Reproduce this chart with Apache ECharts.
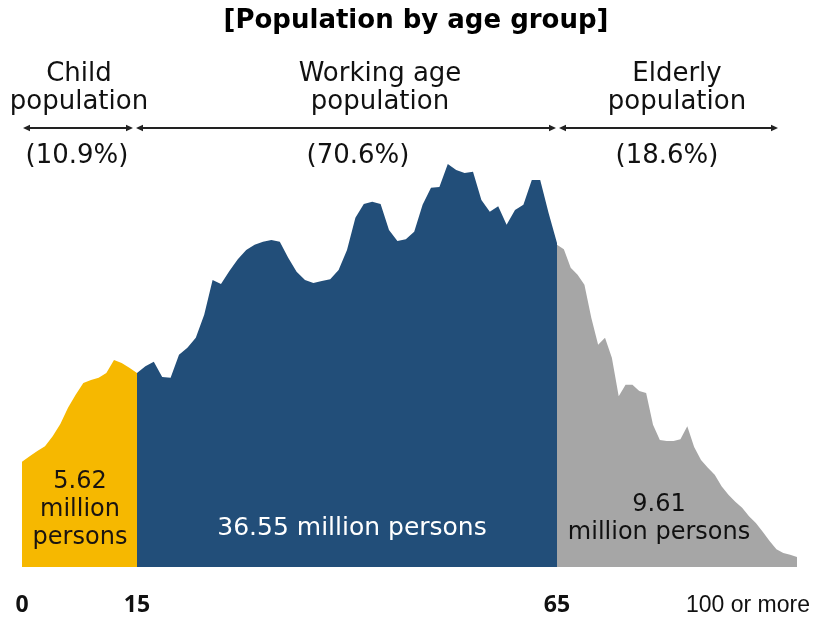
<!DOCTYPE html>
<html><head><meta charset="utf-8">
<script src="https://cdn.jsdelivr.net/npm/echarts@6/dist/echarts.min.js"></script>
<style>html,body{margin:0;padding:0;background:#fff}#c{width:815px;height:622px}</style>
</head><body><div id="c"></div>
<script>
// Population by single year of age (thousands of persons)
const childStart = 0;
const childValues = [242,255,267,278,301,329,366,396,423,430,435,446,476,469,458,446];
const workingStart = 15;
const workingValues = [446,462,472,437,435,488,504,527,580,660,651,681,708,729,741,748,752,748,711,679,660,653,658,662,683,729,803,835,840,835,775,750,754,771,833,872,874,927,913,906,909,844,817,830,787,821,833,890,890,814,745];
const elderlyStart = 65;
const elderlyValues = [741,731,688,672,649,573,511,527,481,393,419,419,405,400,327,292,290,290,294,324,276,246,228,212,186,166,150,136,117,101,81,60,41,32,28,23];
const tickLabels = ['0','15','65','100 or more'];
const groupNames = ['Child\npopulation','Working age\npopulation','Elderly\npopulation'];
const groupShares = ['(10.9%)','(70.6%)','(18.6%)'];
const groupTotals = ['5.62\nmillion\npersons','36.55 million persons','9.61\nmillion persons'];
const titleText = '[Population by age group]';

const toPairs = (start, vals) => vals.map((v, i) => [start + i, v]);

const Y_MAX = 966;
const TOP = 147, HEIGHT = 420;
const FONT = '"DejaVu Sans", sans-serif';

const grids = [
  {left: 22, width: 115, top: TOP, height: HEIGHT},
  {left: 137, width: 420, top: TOP, height: HEIGHT},
  {left: 557, width: 240, top: TOP, height: HEIGHT}
];
const numLabel = {fontFamily: '"Open Sans", sans-serif', fontWeight: 'bold', fontSize: 23, color: '#111', margin: 27};
const xAxes = [
  {gridIndex: 0, type: 'value', min: 0, max: 15, interval: 15,
   axisLabel: Object.assign({}, numLabel, {formatter: v => v === 0 ? tickLabels[0] : ''})},
  {gridIndex: 1, type: 'value', min: 15, max: 65, interval: 5,
   axisLabel: Object.assign({}, numLabel, {formatter: v => v === 15 ? tickLabels[1] : (v === 65 ? tickLabels[2] : '')})},
  {gridIndex: 2, type: 'value', min: 65, max: 100, interval: 5,
   axisLabel: {fontFamily: '"Liberation Sans", Arial, sans-serif', fontSize: 23, color: '#111', margin: 27,
     alignMaxLabel: 'right', padding: [0, -13, 0, 0],
     formatter: v => v === 100 ? tickLabels[3] : ''}}
].map(a => Object.assign(a, {axisLine: {show: false}, axisTick: {show: false}, splitLine: {show: false}}));
const yAxes = [0,1,2].map(i => ({gridIndex: i, type: 'value', min: 0, max: Y_MAX, show: false, splitLine: {show: false}}));

const colors = ['#F6B800', '#224E79', '#A6A6A6'];
const seriesData = [toPairs(childStart, childValues), toPairs(workingStart, workingValues), toPairs(elderlyStart, elderlyValues)];
const series = seriesData.map((d, i) => ({
  type: 'line', xAxisIndex: i, yAxisIndex: i, data: d, symbol: 'none', silent: true, z: 2,
  lineStyle: {width: 0}, itemStyle: {color: colors[i]}, areaStyle: {color: colors[i], opacity: 1}
}));

function txt(text, x, y, size, opts) {
  return {type: 'text', x: x, y: y, silent: true, z: 100,
    style: Object.assign({text: text, fontFamily: FONT, fontSize: size, fill: '#111',
      textAlign: 'center', textVerticalAlign: 'middle', lineHeight: 28}, opts || {})};
}
function arrow(x1, x2, y) {
  const h = 7, w = 3.2;
  return [
    {type: 'line', silent: true, z: 100, shape: {x1: x1 + 2, y1: y, x2: x2 - 2, y2: y}, style: {stroke: '#222', lineWidth: 2}},
    {type: 'polygon', silent: true, z: 100, shape: {points: [[x1, y], [x1 + h, y - w], [x1 + h, y + w]]}, style: {fill: '#222'}},
    {type: 'polygon', silent: true, z: 100, shape: {points: [[x2, y], [x2 - h, y - w], [x2 - h, y + w]]}, style: {fill: '#222'}}
  ];
}

const graphic = [
  txt(titleText, 416, 21, 26, {fontWeight: 'bold', fill: '#000'}),
  txt(groupNames[0], 79, 88, 26),
  txt(groupNames[1], 380, 88, 26),
  txt(groupNames[2], 677, 88, 26),
  ...arrow(23, 133, 128), ...arrow(136, 556, 128), ...arrow(559, 778, 128),
  txt(groupShares[0], 77, 156, 26),
  txt(groupShares[1], 358, 156, 26),
  txt(groupShares[2], 667, 156, 26),
  txt(groupTotals[0], 80, 510, 24, {fill: '#1a1410'}),
  txt(groupTotals[1], 352, 528, 25, {fill: '#ffffff'}),
  txt(groupTotals[2], 659, 519, 24, {fill: '#111'})
];

const chart = echarts.init(document.getElementById('c'), null, {renderer: 'canvas'});
chart.setOption({
  animation: false,
  backgroundColor: '#ffffff',
  grid: grids,
  xAxis: xAxes,
  yAxis: yAxes,
  series: series,
  graphic: {elements: graphic}
});
</script>
</body></html>
